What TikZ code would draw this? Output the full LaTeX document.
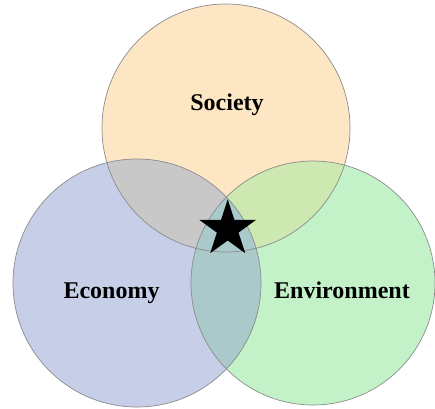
\documentclass[tikz,border=0pt]{standalone}
\usepackage{fontspec}
\setmainfont{Liberation Serif}
\usetikzlibrary{shapes.geometric}
\definecolor{socfill}{HTML}{FDE6C3}
\definecolor{ecofill}{HTML}{C6CEE8}
\definecolor{envfill}{HTML}{C3F2C8}
\definecolor{socecofill}{HTML}{C9C8C9}
\definecolor{socenvfill}{HTML}{CDE8B0}
\definecolor{ecoenvfill}{HTML}{A9C9CB}
\definecolor{rim}{HTML}{8C8C8C}
\tikzset{
  rimline/.style={draw=rim, line width=0.7pt},
  label/.style={font=\fontsize{24}{26}\selectfont\bfseries, anchor=base, inner sep=0pt},
}
\begin{document}
\begin{tikzpicture}[x=1pt,y=1pt]
  \useasboundingbox (0,0) rectangle (435,408);
  \fill[white] (0,0) rectangle (435,408);
  % circle centres and radii
  \coordinate (cs) at (226,280);
  \coordinate (cc) at (137,125);
  \coordinate (cv) at (313,125);
  \def\rs{124}\def\rc{124}\def\rv{122}
  % single sets
  \fill[socfill] (cs) circle (\rs);
  \fill[ecofill] (cc) circle (\rc);
  \fill[envfill] (cv) circle (\rv);
  % pairwise overlaps
  \begin{scope}
    \clip (cs) circle (\rs);
    \fill[socecofill] (cc) circle (\rc);
  \end{scope}
  \begin{scope}
    \clip (cs) circle (\rs);
    \fill[socenvfill] (cv) circle (\rv);
  \end{scope}
  \begin{scope}
    \clip (cc) circle (\rc);
    \fill[ecoenvfill] (cv) circle (\rv);
  \end{scope}
  % outlines
  \draw[rimline] (cs) circle (\rs);
  \draw[rimline] (cc) circle (\rc);
  \draw[rimline] (cv) circle (\rv);
  % labels
  \node[label] (society) at (227,298) {Society};
  \node[label] (economy) at (111.5,110) {Economy};
  \node[label] (environment) at (342,110) {Environment};
  % centre star
  \node[star, star points=5, star point ratio=2.618, minimum size=59.6pt,
        inner sep=0pt, fill=black] (core) at (227.7,178.9) {};
\end{tikzpicture}
\end{document}
